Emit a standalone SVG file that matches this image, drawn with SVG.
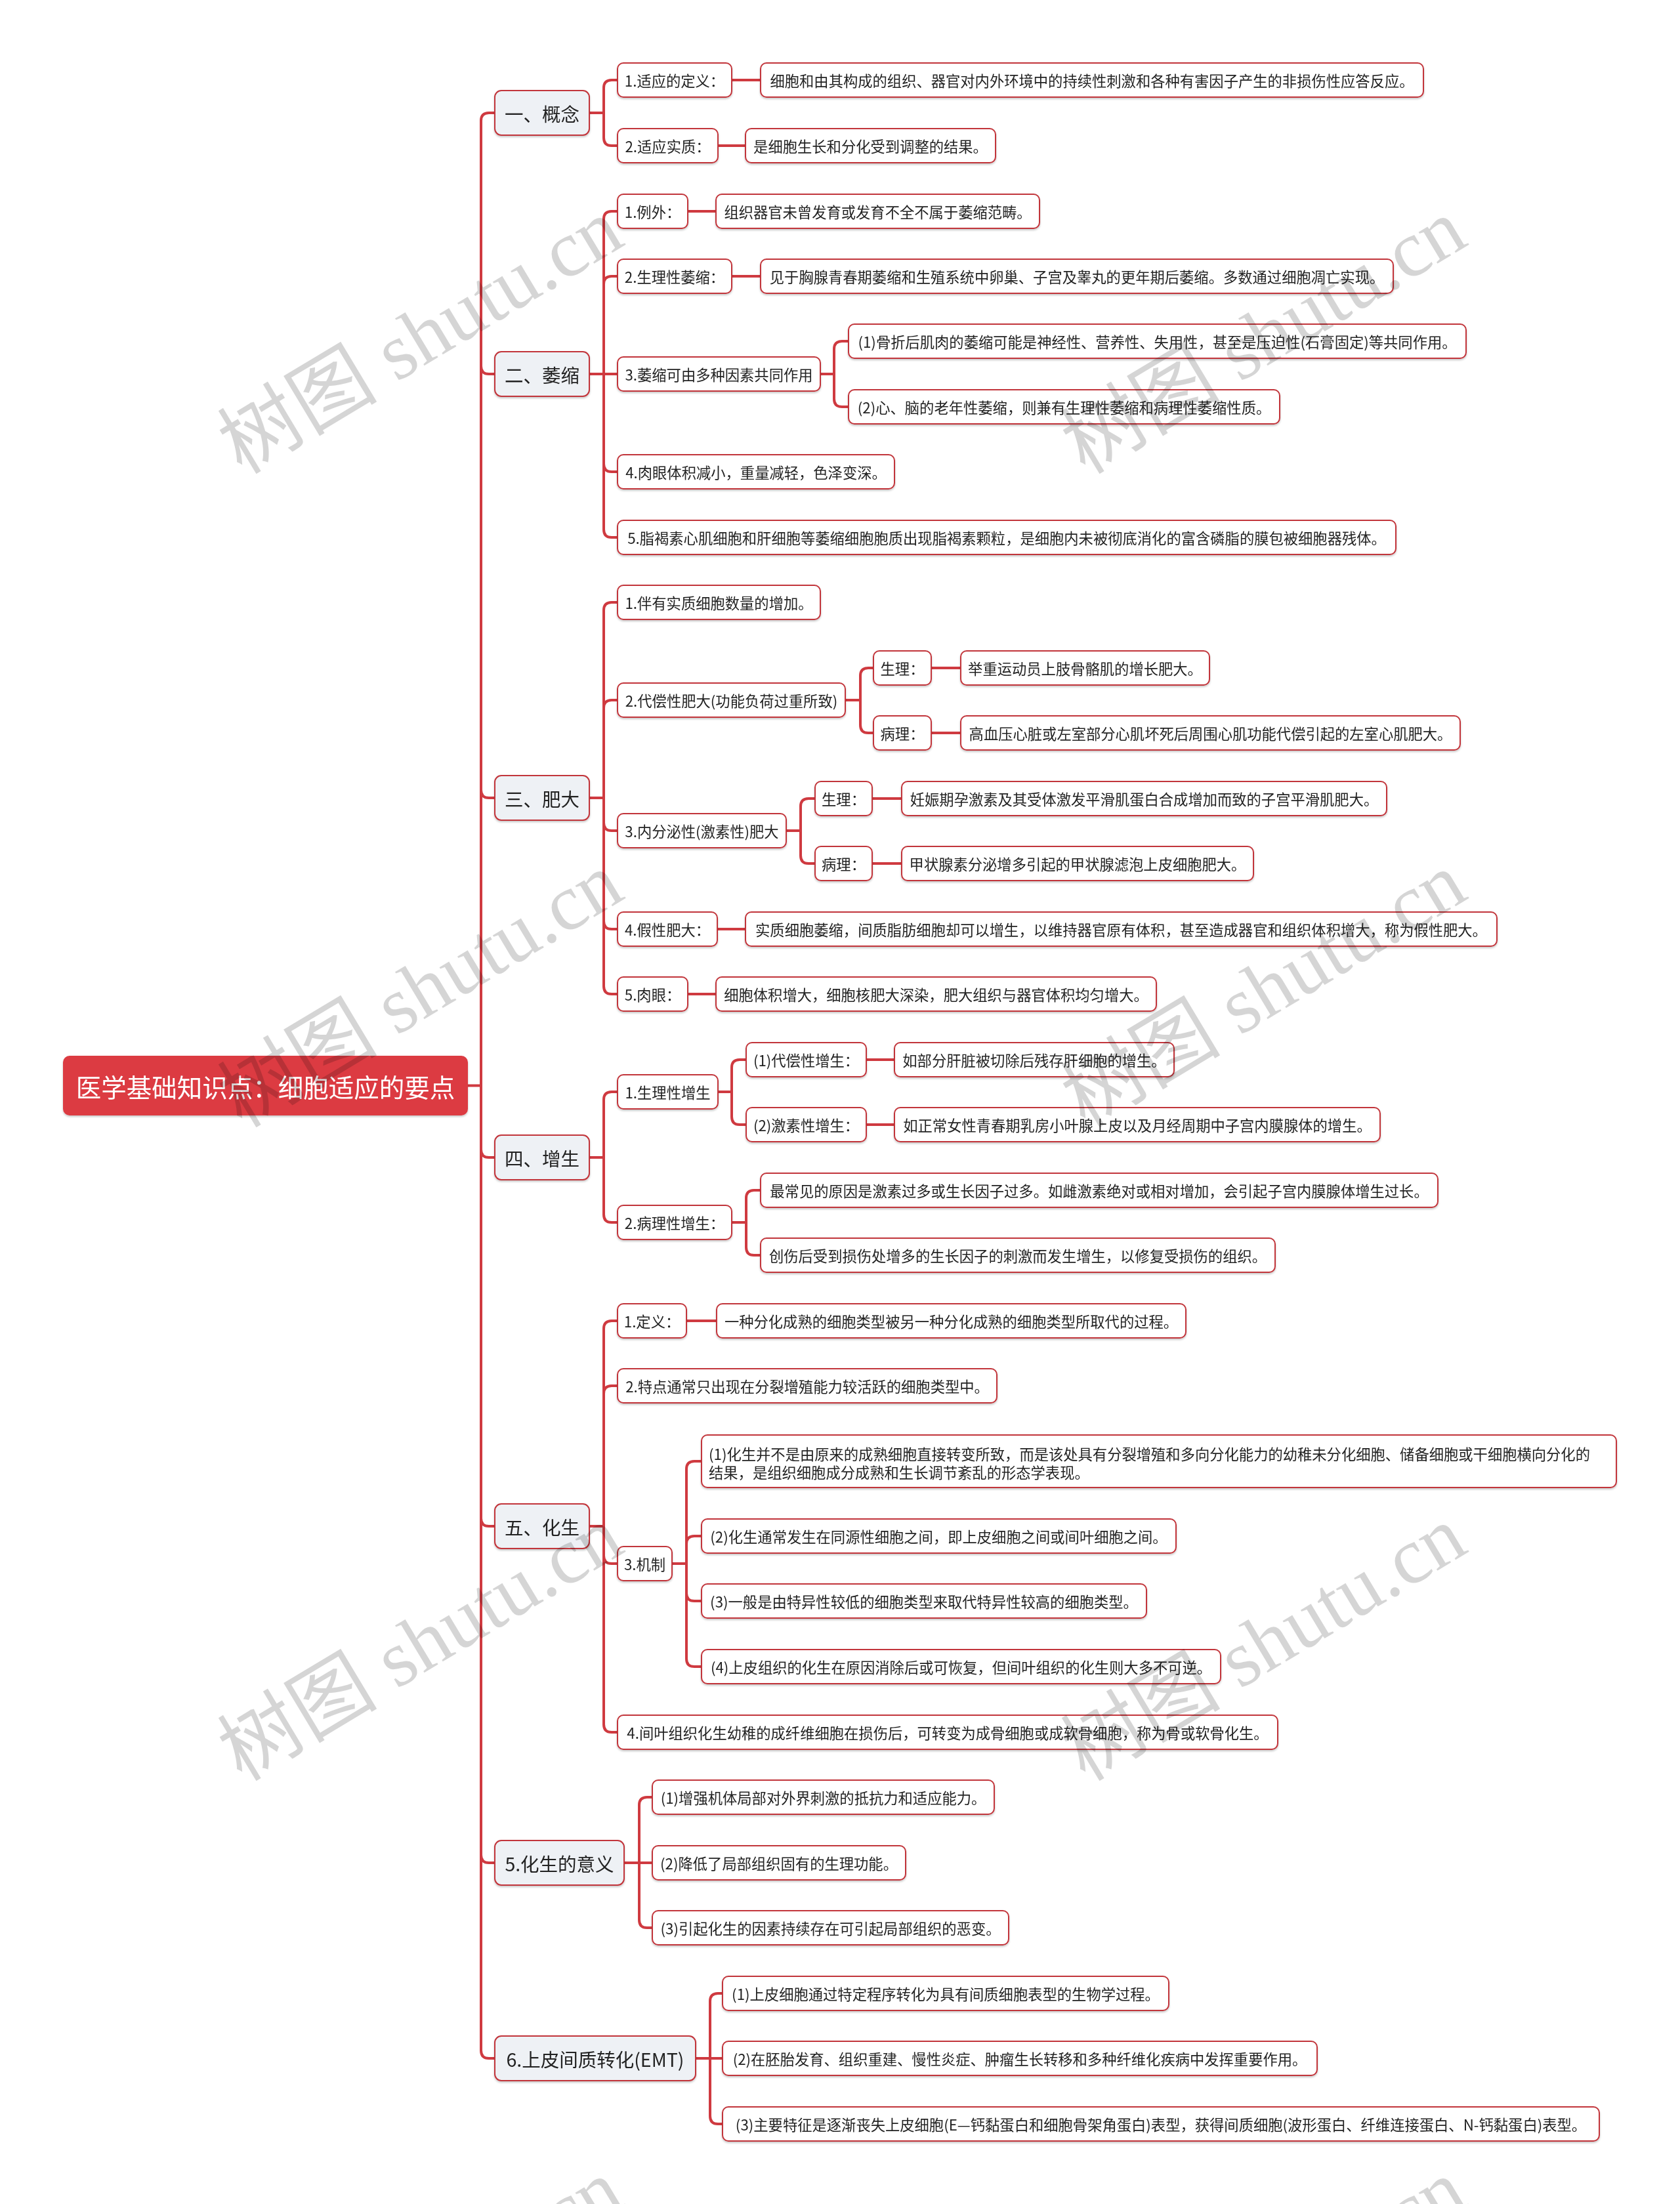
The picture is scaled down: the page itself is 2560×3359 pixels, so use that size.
<svg xmlns="http://www.w3.org/2000/svg" width="2560" height="3359" viewBox="0 0 2560 3359">
<style>
.ln{fill:none;stroke:#cf3a40;stroke-width:4;stroke-linecap:round;stroke-linejoin:round}
.root{fill:#dc3b43}
.l1{fill:#eef1f5;stroke:#c2343a;stroke-width:2}
.lf{fill:#fff;stroke:#c2343a;stroke-width:2}
text{font-family:"Noto Sans CJK SC","Liberation Sans",sans-serif}
.t{font-size:22.3px;fill:#222;text-anchor:middle;dominant-baseline:central}
.ts{font-size:22.3px;fill:#222}
.t1{font-size:28.5px;fill:#222;text-anchor:middle;dominant-baseline:central}
.tr{font-size:38.5px;fill:#fff;text-anchor:middle;dominant-baseline:central}
.wm{font-family:"Liberation Serif","Noto Sans CJK SC",serif;font-size:122px;fill:#000;opacity:.16;text-anchor:middle}
</style>
<defs>
<filter id="sh" x="-5%" y="-20%" width="110%" height="150%">
<feDropShadow dx="0" dy="2" stdDeviation="1.5" flood-color="#000" flood-opacity="0.22"/>
</filter>
</defs>
<rect width="2560" height="3359" fill="#fff"/>
<g id="connectors" class="ln">
<path d="M713 1654.5 H733 M733 1654.5 V184 Q733 172 745 172 H754 M733 1654.5 V558 Q733 570 745 570 H754 M733 1654.5 V1204 Q733 1216 745 1216 H754 M733 1654.5 V1752 Q733 1764 745 1764 H754 M733 1654.5 V2314 Q733 2326 745 2326 H754 M733 1654.5 V2827 Q733 2839 745 2839 H754 M733 1654.5 V3125 Q733 3137 745 3137 H754"/>
<path d="M898 172 H920 M920 172 V134 Q920 122 932 122 H941 M920 172 V210 Q920 222 932 222 H941"/>
<path d="M898 570 H941 M920 570 V334 Q920 322 932 322 H941 M920 570 V433 Q920 421 932 421 H941 M920 570 V707 Q920 719 932 719 H941 M920 570 V807 Q920 819 932 819 H941"/>
<path d="M1250 570 H1271 M1271 570 V532 Q1271 520 1283 520 H1293 M1271 570 V608 Q1271 620 1283 620 H1293"/>
<path d="M898 1216 H920 M920 1216 V930 Q920 918 932 918 H941 M920 1216 V1079 Q920 1067 932 1067 H941 M920 1216 V1254 Q920 1266 932 1266 H941 M920 1216 V1404 Q920 1416 932 1416 H941 M920 1216 V1503 Q920 1515 932 1515 H941"/>
<path d="M1288 1067 H1311 M1311 1067 V1030 Q1311 1018 1323 1018 H1331 M1311 1067 V1105 Q1311 1117 1323 1117 H1331"/>
<path d="M1198 1266 H1220 M1220 1266 V1229 Q1220 1217 1232 1217 H1242 M1220 1266 V1304 Q1220 1316 1232 1316 H1242"/>
<path d="M898 1764 H920 M920 1764 V1676 Q920 1664 932 1664 H941 M920 1764 V1851 Q920 1863 932 1863 H941"/>
<path d="M1094 1664 H1115 M1115 1664 V1627 Q1115 1615 1127 1615 H1137 M1115 1664 V1702 Q1115 1714 1127 1714 H1137"/>
<path d="M1115 1863 H1137 M1137 1863 V1826 Q1137 1814 1149 1814 H1159 M1137 1863 V1901 Q1137 1913 1149 1913 H1159"/>
<path d="M898 2326 H920 M920 2326 V2025 Q920 2013 932 2013 H941 M920 2326 V2124 Q920 2112 932 2112 H941 M920 2326 V2371 Q920 2383 932 2383 H941 M920 2326 V2628 Q920 2640 932 2640 H941"/>
<path d="M1024 2383 H1046 M1046 2383 V2239 Q1046 2227 1058 2227 H1069 M1046 2383 V2353 Q1046 2341 1058 2341 H1069 M1046 2383 V2428 Q1046 2440 1058 2440 H1069 M1046 2383 V2528 Q1046 2540 1058 2540 H1069"/>
<path d="M951 2839 H994 M974 2839 V2751 Q974 2739 986 2739 H994 M974 2839 V2926 Q974 2938 986 2938 H994"/>
<path d="M1060 3137 H1101 M1082 3137 V3050 Q1082 3038 1094 3038 H1101 M1082 3137 V3225 Q1082 3237 1094 3237 H1101"/>
<path d="M1115 122 H1159 M1094 222 H1136 M1048 322 H1091 M1115 421 H1159 M1419 1018 H1464 M1419 1117 H1464 M1329 1217 H1374 M1329 1316 H1374 M1093 1416 H1136 M1048 1515 H1091 M1320 1615 H1363 M1320 1714 H1363 M1046 2013 H1092"/>
</g>
<g id="nodes" filter="url(#sh)">
<g id="n-root"><rect class="root" x="96" y="1609" width="617" height="91" rx="10"/><text class="tr" x="404.5" y="1654.5">医学基础知识点：细胞适应的要点</text></g>

<g id="n-s1"><rect class="l1" x="754" y="138" width="144" height="68" rx="10"/><text class="t1" x="826" y="172">一、概念</text></g>
<g id="n-s2"><rect class="l1" x="754" y="536" width="144" height="68" rx="10"/><text class="t1" x="826" y="570">二、萎缩</text></g>
<g id="n-s3"><rect class="l1" x="754" y="1182" width="144" height="68" rx="10"/><text class="t1" x="826" y="1216">三、肥大</text></g>
<g id="n-s4"><rect class="l1" x="754" y="1730" width="144" height="68" rx="10"/><text class="t1" x="826" y="1764">四、增生</text></g>
<g id="n-s5"><rect class="l1" x="754" y="2292" width="144" height="68" rx="10"/><text class="t1" x="826" y="2326">五、化生</text></g>
<g id="n-s6"><rect class="l1" x="754" y="2805" width="197" height="68" rx="10"/><text class="t1" x="852.5" y="2839">5.化生的意义</text></g>
<g id="n-s7"><rect class="l1" x="754" y="3103" width="306" height="68" rx="10"/><text class="t1" x="907" y="3137">6.上皮间质转化(EMT)</text></g>

<g id="n-a1"><rect class="lf" x="941" y="96" width="174" height="52" rx="9"/><text class="t" x="1028" y="122">1.适应的定义：</text></g>
<g id="n-a1c"><rect class="lf" x="1159" y="96" width="1010" height="52" rx="9"/><text class="t" x="1664" y="122">细胞和由其构成的组织、器官对内外环境中的持续性刺激和各种有害因子产生的非损伤性应答反应。</text></g>
<g id="n-a2"><rect class="lf" x="941" y="196" width="153" height="52" rx="9"/><text class="t" x="1017.5" y="222">2.适应实质：</text></g>
<g id="n-a2c"><rect class="lf" x="1136" y="196" width="381" height="52" rx="9"/><text class="t" x="1326.5" y="222">是细胞生长和分化受到调整的结果。</text></g>

<g id="n-b1"><rect class="lf" x="941" y="296" width="107" height="52" rx="9"/><text class="t" x="994.5" y="322">1.例外：</text></g>
<g id="n-b1c"><rect class="lf" x="1091" y="296" width="493" height="52" rx="9"/><text class="t" x="1337.5" y="322">组织器官未曾发育或发育不全不属于萎缩范畴。</text></g>
<g id="n-b2"><rect class="lf" x="941" y="395" width="174" height="52" rx="9"/><text class="t" x="1028" y="421">2.生理性萎缩：</text></g>
<g id="n-b2c"><rect class="lf" x="1159" y="395" width="964" height="52" rx="9"/><text class="t" x="1641" y="421">见于胸腺青春期萎缩和生殖系统中卵巢、子宫及睾丸的更年期后萎缩。多数通过细胞凋亡实现。</text></g>
<g id="n-b3"><rect class="lf" x="941" y="544" width="309" height="52" rx="9"/><text class="t" x="1095.5" y="570">3.萎缩可由多种因素共同作用</text></g>
<g id="n-b3a"><rect class="lf" x="1293" y="494" width="941" height="52" rx="9"/><text class="t" x="1763.5" y="520">(1)骨折后肌肉的萎缩可能是神经性、营养性、失用性，甚至是压迫性(石膏固定)等共同作用。</text></g>
<g id="n-b3b"><rect class="lf" x="1293" y="594" width="657" height="52" rx="9"/><text class="t" x="1621.5" y="620">(2)心、脑的老年性萎缩，则兼有生理性萎缩和病理性萎缩性质。</text></g>
<g id="n-b4"><rect class="lf" x="941" y="693" width="422" height="52" rx="9"/><text class="t" x="1152" y="719">4.肉眼体积减小，重量减轻，色泽变深。</text></g>
<g id="n-b5"><rect class="lf" x="941" y="793" width="1186" height="52" rx="9"/><text class="t" x="1534" y="819">5.脂褐素心肌细胞和肝细胞等萎缩细胞胞质出现脂褐素颗粒，是细胞内未被彻底消化的富含磷脂的膜包被细胞器残体。</text></g>

<g id="n-c1"><rect class="lf" x="941" y="892" width="309" height="52" rx="9"/><text class="t" x="1095.5" y="918">1.伴有实质细胞数量的增加。</text></g>
<g id="n-c2"><rect class="lf" x="941" y="1041" width="347" height="52" rx="9"/><text class="t" x="1114.5" y="1067">2.代偿性肥大(功能负荷过重所致)</text></g>
<g id="n-c2a"><rect class="lf" x="1331" y="992" width="88" height="52" rx="9"/><text class="t" x="1375" y="1018">生理：</text></g>
<g id="n-c2ac"><rect class="lf" x="1464" y="992" width="379" height="52" rx="9"/><text class="t" x="1653.5" y="1018">举重运动员上肢骨骼肌的增长肥大。</text></g>
<g id="n-c2b"><rect class="lf" x="1331" y="1091" width="88" height="52" rx="9"/><text class="t" x="1375" y="1117">病理：</text></g>
<g id="n-c2bc"><rect class="lf" x="1464" y="1091" width="761" height="52" rx="9"/><text class="t" x="1844.5" y="1117">高血压心脏或左室部分心肌坏死后周围心肌功能代偿引起的左室心肌肥大。</text></g>
<g id="n-c3"><rect class="lf" x="941" y="1240" width="257" height="52" rx="9"/><text class="t" x="1069.5" y="1266">3.内分泌性(激素性)肥大</text></g>
<g id="n-c3a"><rect class="lf" x="1242" y="1191" width="87" height="52" rx="9"/><text class="t" x="1285.5" y="1217">生理：</text></g>
<g id="n-c3ac"><rect class="lf" x="1374" y="1191" width="739" height="52" rx="9"/><text class="t" x="1743.5" y="1217">妊娠期孕激素及其受体激发平滑肌蛋白合成增加而致的子宫平滑肌肥大。</text></g>
<g id="n-c3b"><rect class="lf" x="1242" y="1290" width="87" height="52" rx="9"/><text class="t" x="1285.5" y="1316">病理：</text></g>
<g id="n-c3bc"><rect class="lf" x="1374" y="1290" width="536" height="52" rx="9"/><text class="t" x="1642" y="1316">甲状腺素分泌增多引起的甲状腺滤泡上皮细胞肥大。</text></g>
<g id="n-c4"><rect class="lf" x="941" y="1390" width="152" height="52" rx="9"/><text class="t" x="1017" y="1416">4.假性肥大：</text></g>
<g id="n-c4c"><rect class="lf" x="1136" y="1390" width="1145" height="52" rx="9"/><text class="t" x="1708.5" y="1416">实质细胞萎缩，间质脂肪细胞却可以增生，以维持器官原有体积，甚至造成器官和组织体积增大，称为假性肥大。</text></g>
<g id="n-c5"><rect class="lf" x="941" y="1489" width="107" height="52" rx="9"/><text class="t" x="994.5" y="1515">5.肉眼：</text></g>
<g id="n-c5c"><rect class="lf" x="1091" y="1489" width="671" height="52" rx="9"/><text class="t" x="1426.5" y="1515">细胞体积增大，细胞核肥大深染，肥大组织与器官体积均匀增大。</text></g>

<g id="n-d1"><rect class="lf" x="941" y="1638" width="153" height="52" rx="9"/><text class="t" x="1017.5" y="1664">1.生理性增生</text></g>
<g id="n-d1a"><rect class="lf" x="1137" y="1589" width="183" height="52" rx="9"/><text class="t" x="1228.5" y="1615">(1)代偿性增生：</text></g>
<g id="n-d1ac"><rect class="lf" x="1363" y="1589" width="426" height="52" rx="9"/><text class="t" x="1576" y="1615">如部分肝脏被切除后残存肝细胞的增生。</text></g>
<g id="n-d1b"><rect class="lf" x="1137" y="1688" width="183" height="52" rx="9"/><text class="t" x="1228.5" y="1714">(2)激素性增生：</text></g>
<g id="n-d1bc"><rect class="lf" x="1363" y="1688" width="740" height="52" rx="9"/><text class="t" x="1733" y="1714">如正常女性青春期乳房小叶腺上皮以及月经周期中子宫内膜腺体的增生。</text></g>
<g id="n-d2"><rect class="lf" x="941" y="1837" width="174" height="52" rx="9"/><text class="t" x="1028" y="1863">2.病理性增生：</text></g>
<g id="n-d2a"><rect class="lf" x="1159" y="1788" width="1032" height="52" rx="9"/><text class="t" x="1675" y="1814">最常见的原因是激素过多或生长因子过多。如雌激素绝对或相对增加，会引起子宫内膜腺体增生过长。</text></g>
<g id="n-d2b"><rect class="lf" x="1159" y="1887" width="784" height="52" rx="9"/><text class="t" x="1551" y="1913">创伤后受到损伤处增多的生长因子的刺激而发生增生，以修复受损伤的组织。</text></g>

<g id="n-e1"><rect class="lf" x="941" y="1987" width="105" height="52" rx="9"/><text class="t" x="993.5" y="2013">1.定义：</text></g>
<g id="n-e1c"><rect class="lf" x="1092" y="1987" width="715" height="52" rx="9"/><text class="t" x="1449.5" y="2013">一种分化成熟的细胞类型被另一种分化成熟的细胞类型所取代的过程。</text></g>
<g id="n-e2"><rect class="lf" x="941" y="2086" width="578" height="52" rx="9"/><text class="t" x="1230" y="2112">2.特点通常只出现在分裂增殖能力较活跃的细胞类型中。</text></g>
<g id="n-e3"><rect class="lf" x="941" y="2357" width="83" height="52" rx="9"/><text class="t" x="982.5" y="2383">3.机制</text></g>
<g id="n-e3a"><rect class="lf" x="1069" y="2187" width="1394" height="80" rx="9"/><text class="ts" x="1080" y="2225">(1)化生并不是由原来的成熟细胞直接转变所致，而是该处具有分裂增殖和多向分化能力的幼稚未分化细胞、储备细胞或干细胞横向分化的</text><text class="ts" x="1080" y="2253">结果，是组织细胞成分成熟和生长调节紊乱的形态学表现。</text></g>
<g id="n-e3b"><rect class="lf" x="1069" y="2315" width="723" height="52" rx="9"/><text class="t" x="1430.5" y="2341">(2)化生通常发生在同源性细胞之间，即上皮细胞之间或间叶细胞之间。</text></g>
<g id="n-e3c"><rect class="lf" x="1069" y="2414" width="678" height="52" rx="9"/><text class="t" x="1408" y="2440">(3)一般是由特异性较低的细胞类型来取代特异性较高的细胞类型。</text></g>
<g id="n-e3d"><rect class="lf" x="1069" y="2514" width="791" height="52" rx="9"/><text class="t" x="1464.5" y="2540">(4)上皮组织的化生在原因消除后或可恢复，但间叶组织的化生则大多不可逆。</text></g>
<g id="n-e4"><rect class="lf" x="941" y="2614" width="1006" height="52" rx="9"/><text class="t" x="1444" y="2640">4.间叶组织化生幼稚的成纤维细胞在损伤后，可转变为成骨细胞或成软骨细胞，称为骨或软骨化生。</text></g>

<g id="n-f1"><rect class="lf" x="994" y="2713" width="521" height="52" rx="9"/><text class="t" x="1254.5" y="2739">(1)增强机体局部对外界刺激的抵抗力和适应能力。</text></g>
<g id="n-f2"><rect class="lf" x="994" y="2813" width="386" height="52" rx="9"/><text class="t" x="1187" y="2839">(2)降低了局部组织固有的生理功能。</text></g>
<g id="n-f3"><rect class="lf" x="994" y="2912" width="543" height="52" rx="9"/><text class="t" x="1265.5" y="2938">(3)引起化生的因素持续存在可引起局部组织的恶变。</text></g>

<g id="n-g1"><rect class="lf" x="1101" y="3012" width="680" height="52" rx="9"/><text class="t" x="1441" y="3038">(1)上皮细胞通过特定程序转化为具有间质细胞表型的生物学过程。</text></g>
<g id="n-g2"><rect class="lf" x="1101" y="3111" width="906" height="52" rx="9"/><text class="t" x="1554" y="3137">(2)在胚胎发育、组织重建、慢性炎症、肿瘤生长转移和多种纤维化疾病中发挥重要作用。</text></g>
<g id="n-g3"><rect class="lf" x="1101" y="3211" width="1336" height="52" rx="9"/><text class="t" x="1769" y="3237">(3)主要特征是逐渐丧失上皮细胞(E—钙黏蛋白和细胞骨架角蛋白)表型，获得间质细胞(波形蛋白、纤维连接蛋白、N-钙黏蛋白)表型。</text></g>
</g>
<g id="watermarks">
<text class="wm" transform="translate(662 548) rotate(-31)">树图 shutu.cn</text>
<text class="wm" transform="translate(1947 548) rotate(-31)">树图 shutu.cn</text>
<text class="wm" transform="translate(662 1544) rotate(-31)">树图 shutu.cn</text>
<text class="wm" transform="translate(1947 1544) rotate(-31)">树图 shutu.cn</text>
<text class="wm" transform="translate(662 2540) rotate(-31)">树图 shutu.cn</text>
<text class="wm" transform="translate(1947 2540) rotate(-31)">树图 shutu.cn</text>
<text class="wm" transform="translate(662 3536) rotate(-31)">树图 shutu.cn</text>
<text class="wm" transform="translate(1947 3536) rotate(-31)">树图 shutu.cn</text>
</g>
</svg>
